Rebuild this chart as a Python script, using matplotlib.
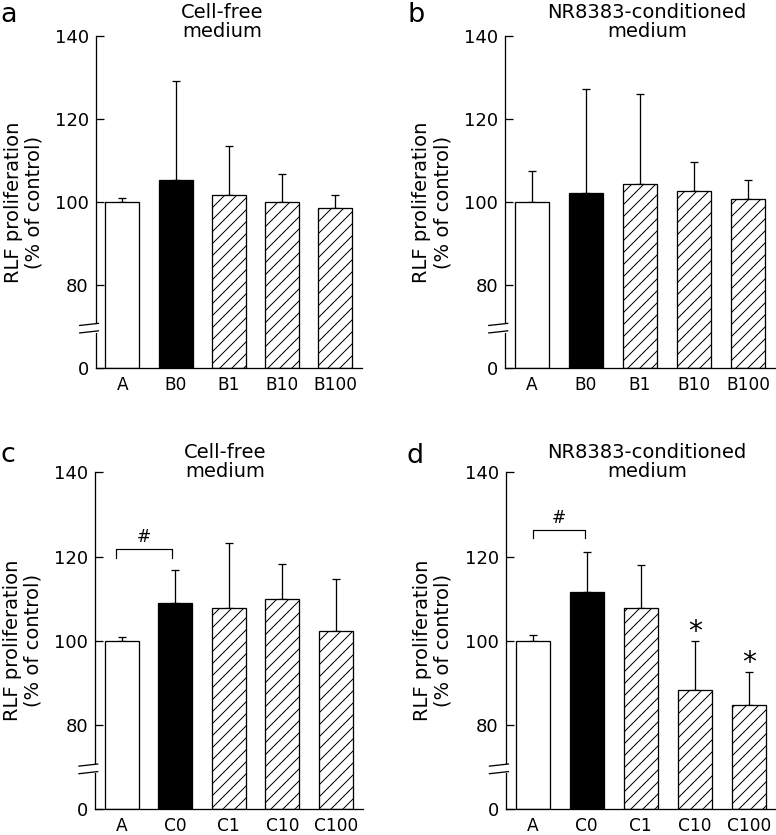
"""RLF proliferation bar panels (a-d) with broken y axis."""
import matplotlib
matplotlib.use("Agg")
import matplotlib.pyplot as plt
import matplotlib.transforms as mtransforms
import numpy as np

plt.rcParams["font.family"] = ["DejaVu Sans"]
plt.rcParams["hatch.linewidth"] = 1.0

# ---- data ----
cats_b = ["A", "B0", "B1", "B10", "B100"]
cats_c = ["A", "C0", "C1", "C10", "C100"]

a_mean = [100.0, 105.3, 101.7, 100.1, 98.6]
a_sd = [1.0, 23.9, 11.8, 6.6, 3.2]
b_mean = [100.0, 102.1, 104.3, 102.7, 100.8]
b_sd = [7.5, 25.2, 21.8, 6.9, 4.4]
c_mean = [100.0, 108.9, 107.9, 109.9, 102.4]
c_sd = [1.0, 7.8, 15.3, 8.3, 12.2]
d_mean = [100.0, 111.6, 107.9, 88.3, 84.7]
d_sd = [1.3, 9.5, 10.0, 11.7, 7.9]

titles = ["Cell-free\nmedium", "NR8383-conditioned\nmedium",
          "Cell-free\nmedium", "NR8383-conditioned\nmedium"]
letters = ["a", "b", "c", "d"]
yticks = [0, 80, 100, 120, 140]

# significance marks
c_bracket = (-0.1, 0.94, 119.6, 121.7)
d_bracket = (0.0, 0.97, 124.4, 126.3)
d_stars = [3, 4]

BREAK = 60  # drawn position of real 0 (axis break between 0 and 80)


def to_axis(v):
    v = np.asarray(v, dtype=float)
    return np.where(v >= 80, v, BREAK + v * 0.25)


W, H = 776, 835
fig = plt.figure(figsize=(W / 72, H / 72), dpi=72)

# axes boxes in pixels: left, right, top, bottom
boxes = [(95.7, 362.0, 36.0, 368.0),
         (505.0, 775.0, 36.0, 368.0),
         (95.0, 362.7, 472.3, 809.3),
         (505.7, 776.0, 472.3, 809.3)]
title_pos = [(0.474, 1.042), (0.526, 1.042), (0.486, 1.030), (0.523, 1.030)]
letter_pos = [(0.0, 22), (407, 22), (0.0, 462), (407, 463)]

panels = [(cats_b, a_mean, a_sd), (cats_b, b_mean, b_sd),
          (cats_c, c_mean, c_sd), (cats_c, d_mean, d_sd)]

for i, (cats, means, sds) in enumerate(panels):
    l, r, t, b = boxes[i]
    ax = fig.add_axes([l / W, 1 - b / H, (r - l) / W, (b - t) / H])
    x = np.arange(len(cats))
    base = float(to_axis(0))
    heights = to_axis(means) - base

    faces = ["white", "black", "white", "white", "white"]
    hatches = [None, None, "//", "//", "//"]
    for xi, h, fc, ht in zip(x, heights, faces, hatches):
        ax.bar(xi, h, bottom=base, width=0.635, color=fc, edgecolor="black",
               linewidth=1.3, hatch=ht, zorder=2)
    ax.errorbar(x, to_axis(means), yerr=[np.zeros(len(x)), sds], fmt="none",
                ecolor="black", elinewidth=1.3, capsize=4, capthick=1.3, zorder=1)

    ax.set_xlim(-0.5, 4.5)
    ax.set_ylim(BREAK, 140)
    ax.set_yticks(to_axis(yticks))
    ax.set_yticklabels([str(v) for v in yticks])
    ax.set_xticks(x)
    ax.set_xticklabels(cats)
    ax.tick_params(axis="y", direction="in", length=8, width=1.3, pad=7, labelsize=18)
    ax.tick_params(axis="x", length=0, pad=8, labelsize=17)
    for s in ("top", "right"):
        ax.spines[s].set_visible(False)
    for s in ("left", "bottom"):
        ax.spines[s].set_linewidth(1.3)

    # axis break marks
    trans = mtransforms.blended_transform_factory(ax.transAxes, ax.transData)
    ax.plot([0, 0], [69.0, 70.4], color="white", lw=3, transform=trans,
            clip_on=False, zorder=5)
    for yb in (68.7, 70.5):
        ax.plot([-0.06, 0.01], [yb - 0.25, yb + 0.25], color="black", lw=1.3,
                transform=trans, clip_on=False, zorder=6)

    ax.text(-0.27, 0.5, "RLF proliferation\n(% of control)", rotation=90,
            ha="center", va="center", fontsize=19.5, linespacing=1.15,
            transform=ax.transAxes)
    tx, ty = title_pos[i]
    ax.text(tx, ty, titles[i], ha="center", va="center", fontsize=19.5,
            linespacing=1.0, transform=ax.transAxes)
    lx, ly = letter_pos[i]
    fig.text(lx / W, 1 - ly / H, letters[i], fontsize=27, ha="left", va="baseline")

    if i in (2, 3):
        x0, x1, y0, y1 = c_bracket if i == 2 else d_bracket
        ax.plot([x0, x0, x1, x1], [y0, y1, y1, y0], color="black", lw=1.2,
                clip_on=False)
        ax.text((x0 + x1) / 2, y1 + 0.7, "#", ha="center", va="bottom", fontsize=17)
    if i == 3:
        for k in d_stars:
            ax.text(k, means[k] + sds[k] + 0.2, "*", ha="center", va="baseline",
                    fontsize=28)

fig.savefig("out.png", dpi=72)
